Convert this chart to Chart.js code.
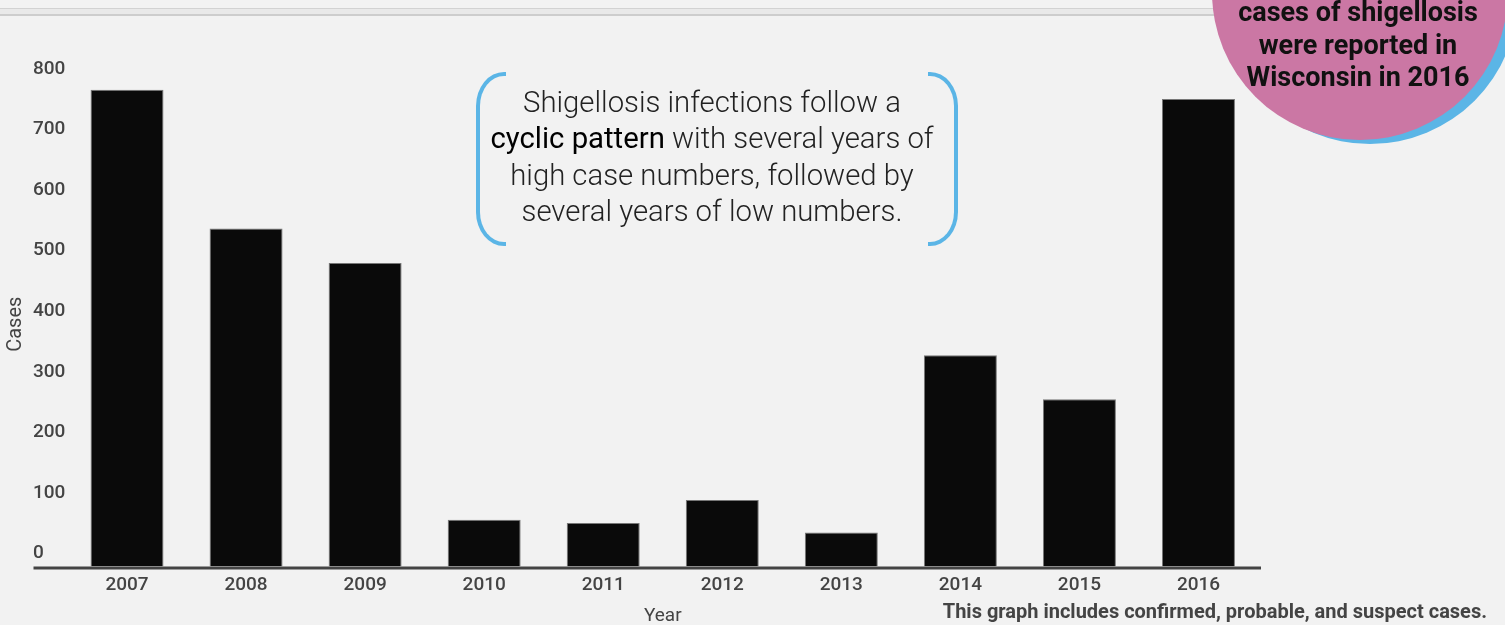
<!DOCTYPE html>
<html>
<head>
<meta charset="utf-8">
<script src="https://cdn.jsdelivr.net/npm/chart.js@4.4.1/dist/chart.umd.min.js"></script>
<style>
  body { margin:0; background:#f2f2f2; overflow:hidden; font-family: Roboto, "Noto Sans", sans-serif; }
  #wrap { position:relative; width:1505px; height:625px; }
  #topbar { position:absolute; left:0; top:8px; width:1300px; height:5px; background:#e9e9e9; border-top:1px solid #d2d2d2; border-bottom:2px solid #cdcdcd; }
  .bubble { position:absolute; border-radius:50%; }
  #bubbleShadow { left:1222px; top:-152px; width:296px; height:296px; background:#5bb5e6; }
  #bubble { left:1212px; top:-156px; width:296px; height:296px; background:#cb77a4; }
  #bubbleText { position:absolute; left:1208px; top:-4px; width:300px; text-align:center; font-weight:bold; font-size:27px; line-height:32.5px; color:#111; }
  #note { position:absolute; left:476px; top:72px; width:482px; height:170px; }
  .brk { position:absolute; top:0; width:26px; height:166px; border:4px solid #5bb5e6; }
  .brk.l { left:0; border-right:none; border-radius:28px 0 0 28px / 34px 0 0 34px; }
  .brk.r { right:0; border-left:none; border-radius:0 28px 28px 0 / 0 34px 34px 0; }
  #noteText { position:absolute; left:-10px; top:12px; width:492px; text-align:center; font-weight:300; font-size:29.3px; line-height:36.4px; color:#222; white-space:nowrap; }
  #noteText b { font-weight:400; color:#000; }
  #foot { position:absolute; right:18px; top:599px; font-size:20px; font-weight:bold; color:#444; white-space:nowrap; }
</style>
</head>
<body>
<div id="wrap">
  <div id="topbar"></div>
  <canvas id="myChart"></canvas>
  <div id="note">
    <div class="brk l"></div><div class="brk r"></div>
    <div id="noteText">Shigellosis infections follow a<br><b>cyclic pattern</b> with several years of<br>high case numbers, followed by<br>several years of low numbers.</div>
  </div>
  <div class="bubble" id="bubbleShadow"></div>
  <div class="bubble" id="bubble"></div>
  <div id="bubbleText">cases of shigellosis<br>were reported in<br>Wisconsin in 2016</div>
  <div id="foot">This graph includes confirmed, probable, and suspect cases.</div>
</div>
<script>
// data
var years = ['2007','2008','2009','2010','2011','2012','2013','2014','2015','2016'];
var cases = [787, 558, 501, 77, 72, 110, 56, 349, 276, 772];
var yMin = 0, yMax = 800, yStep = 100;

var axisLine = {
  id: 'axisLine',
  afterDraw: function(chart) {
    var c = chart.ctx, a = chart.chartArea;
    var y = chart.scales.y.getPixelForValue(0) + 1.5;
    c.save();
    c.strokeStyle = '#444';
    c.lineWidth = 3;
    c.beginPath();
    c.moveTo(a.left - 34, y);
    c.lineTo(a.right + 3, y);
    c.stroke();
    c.restore();
  }
};

var ctx = document.getElementById('myChart').getContext('2d');
var myChart = new Chart(ctx, {
  type: 'bar',
  data: {
    labels: years,
    datasets: [{
      label: 'Cases',
      data: cases,
      backgroundColor: '#0a0a0a',
      borderColor: '#777',
      borderWidth: 1,
      barPercentage: 0.613,
      categoryPercentage: 1
    }]
  },
  options: {
    responsive: true,
    maintainAspectRatio: false,
    animation: false,
    layout: { padding: { left: 33, right: 247, top: 82, bottom: 0 } },
    plugins: { legend: { display: false }, tooltip: { enabled: false } },
    scales: {
      x: {
        grid: { display: false, drawTicks: false },
        border: { display: false },
        ticks: { color: '#444', font: { family: 'Roboto', size: 19, weight: '500' }, padding: 7, maxRotation: 0 },
        title: { display: true, text: 'Year', color: '#444', font: { family: 'Roboto', size: 19 }, padding: { top: 0, bottom: -3 } },
        afterFit: function(s) { s.height = 58.5; }
      },
      y: {
        min: yMin, max: yMax,
        grid: { display: false, drawTicks: false },
        border: { display: false },
        ticks: { stepSize: yStep, color: '#444', font: { family: 'Roboto', size: 19, weight: '500' }, padding: 1, crossAlign: 'far', labelOffset: -13 },
        title: { display: true, text: 'Cases', color: '#444', font: { family: 'Roboto', size: 20 }, padding: { top: -29, bottom: 0 } },
        afterFit: function(s) { s.width = 34.5; }
      }
    }
  },
  plugins: [axisLine]
});
</script>
</body>
</html>
